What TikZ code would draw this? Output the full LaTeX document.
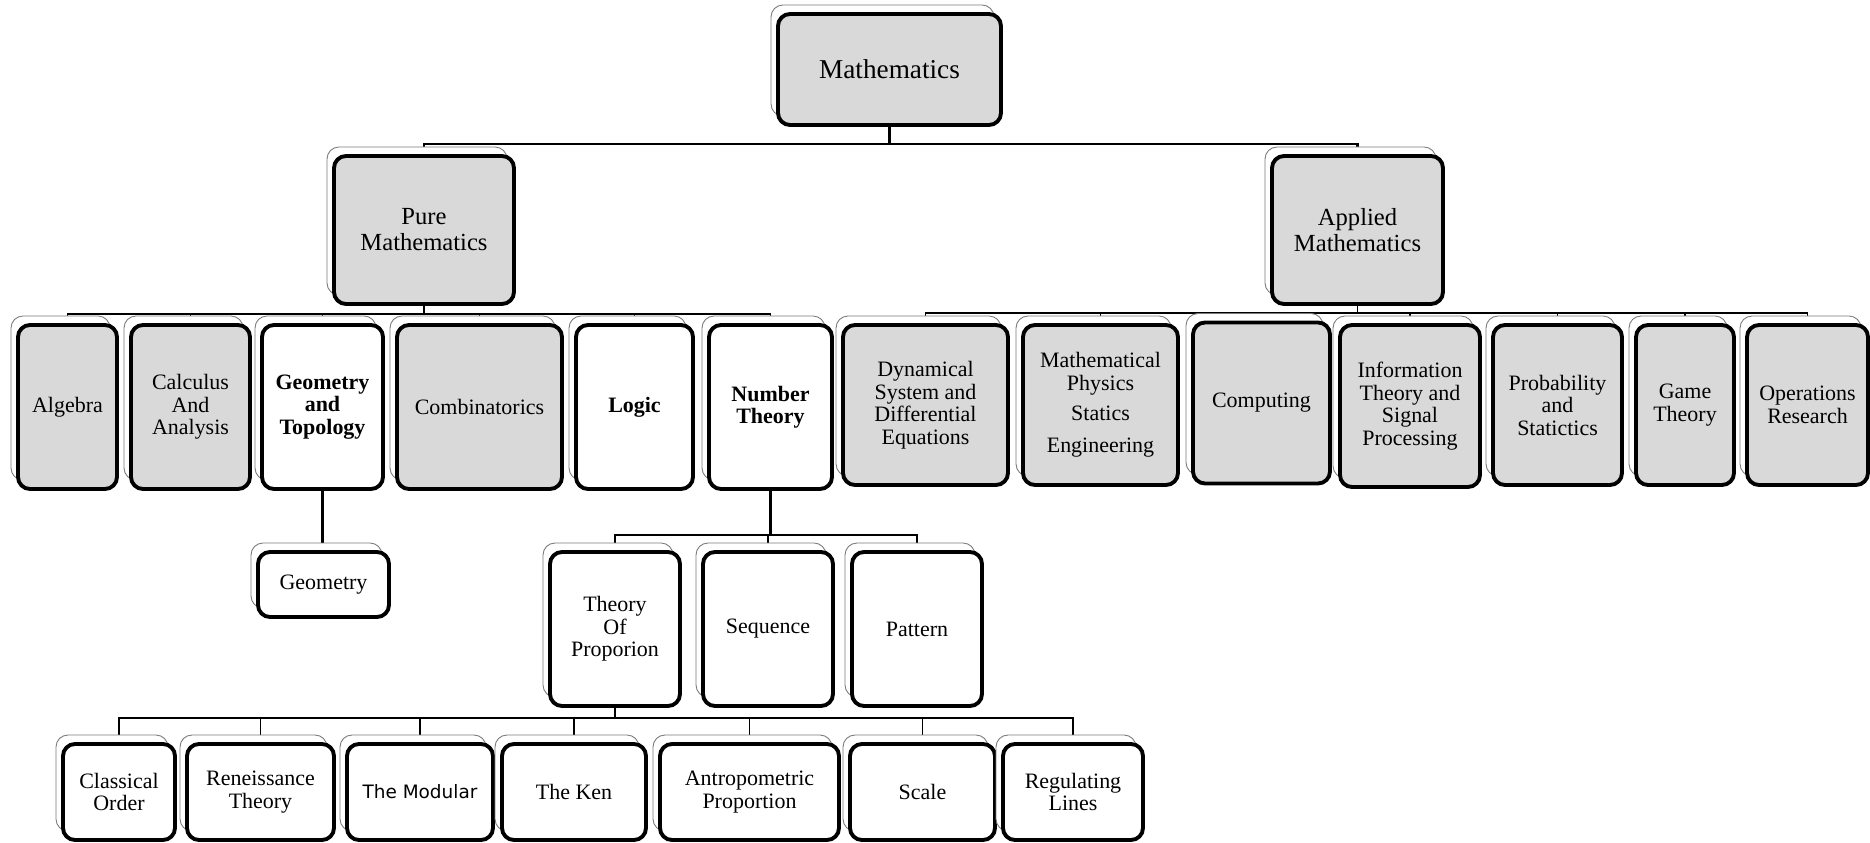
\documentclass[tikz,border=0pt]{standalone}
\usepackage{fontspec}
\setmainfont{Liberation Serif}
\newfontfamily\modularfont{DejaVu Sans}
\usetikzlibrary{shadows,backgrounds}

\definecolor{boxgrey}{HTML}{D9D9D9}
\definecolor{shadowline}{HTML}{7A7A7A}
\newcommand\boxfont{\fontsize{12.5}{12.8}\selectfont}

\tikzset{
  box/.style={draw, line width=2.2pt, rounded corners=2.4mm, align=center, inner sep=1pt, font=\boxfont,
    copy shadow={shadow xshift=-1.4mm, shadow yshift=1.8mm, draw=shadowline, line width=0.5pt, fill=white}},
  greybox/.style={box, fill=boxgrey},
  whitebox/.style={box, fill=white},
  boxsize/.style 2 args={minimum width=#1*0.2mm, minimum height=#2*0.2mm},
  link/.style={line width=1.6pt},
  thinlink/.style={line width=1.1pt}
}

\begin{document}
\begin{tikzpicture}[x=0.2mm, y=-0.2mm]
  \useasboundingbox (0,0) rectangle (1870,843);

  % root and main branches
  \node[greybox, boxsize={223}{111}, font=\fontsize{15.5}{16}\selectfont] (math) at (889.5,69.5) {Mathematics};
  \node[greybox, boxsize={180}{148}, font=\fontsize{14}{14.8}\selectfont] (pure) at (424,230) {Pure\\Mathematics};
  \node[greybox, boxsize={171}{148}, font=\fontsize{14}{14.8}\selectfont] (appl) at (1357.5,230) {Applied\\Mathematics};

  % pure mathematics
  \node[greybox, boxsize={99}{164}] (alg) at (67.5,407) {Algebra};
  \node[greybox, boxsize={119}{164}] (calc) at (190.5,407) {Calculus\\And\\Analysis};
  \node[whitebox, boxsize={121}{164}, font=\boxfont\bfseries] (geotop) at (322.5,407) {Geometry\\and\\Topology};
  \node[greybox, boxsize={165}{164}] (comb) at (479.5,407) {Combinatorics};
  \node[whitebox, boxsize={117}{164}, font=\boxfont\bfseries] (logic) at (634.5,407) {Logic};
  \node[whitebox, boxsize={123}{164}, font=\boxfont\bfseries] (numth) at (770.5,407) {Number\\Theory};

  % applied mathematics
  \node[greybox, boxsize={165}{160}] (dyn) at (925.5,405) {Dynamical\\System and\\Differential\\Equations};
  \node[greybox, boxsize={155}{160}] (mphys) at (1100.5,405) {Mathematical\\Physics\\[1.6mm]Statics\\[2mm]Engineering};
  \node[greybox, boxsize={137}{161}] (comp) at (1261.5,403) {Computing};
  \node[greybox, boxsize={140}{162}] (info) at (1410,406) {Information\\Theory and\\Signal\\Processing};
  \node[greybox, boxsize={129}{160}] (prob) at (1557.5,405) {Probability\\and\\Statictics};
  \node[greybox, boxsize={98}{160}] (game) at (1685,405) {Game\\Theory};
  \node[greybox, boxsize={121}{160}] (ops) at (1807.5,405) {Operations\\Research};

  % geometry and number theory
  \node[whitebox, boxsize={131}{65}] (geo) at (323.5,584.5) {Geometry};
  \node[whitebox, boxsize={130}{154}] (theory) at (615,629) {Theory\\Of\\Proporion};
  \node[whitebox, boxsize={130}{154}] (seq) at (768,629) {Sequence};
  \node[whitebox, boxsize={130}{154}] (patt) at (917,629) {Pattern};

  % theory of proportion
  \node[whitebox, boxsize={112}{96}] (classic) at (119,792) {Classical\\Order};
  \node[whitebox, boxsize={147}{96}] (renai) at (260.5,792) {Reneissance\\Theory};
  \node[whitebox, boxsize={146}{96}, font=\modularfont\fontsize{10.5}{12}\selectfont] (modul) at (420,792) {The Modular};
  \node[whitebox, boxsize={144}{96}] (ken) at (574,792) {The Ken};
  \node[whitebox, boxsize={179}{96}] (antro) at (749.5,792) {Antropometric\\Proportion};
  \node[whitebox, boxsize={145}{96}] (scale) at (922.5,792) {Scale};
  \node[whitebox, boxsize={140}{96}] (regul) at (1073,792) {Regulating\\Lines};

  \begin{scope}[on background layer]
    \draw[link] (math.south) -- ++(0,17) -| (pure.north);
    \draw[link] (math.south) -- ++(0,17) -| (appl.north);
    \foreach \n in {alg,calc,geotop,comb,logic,numth}
      \draw[thinlink] (pure.south) -- ++(0,8) -| (\n.north);
    \foreach \n in {dyn,mphys,comp,info,prob,game,ops}
      \draw[thinlink] (appl.south) -- ++(0,7) -| (\n.north);
    \draw[link] (geotop.south) -- (geotop.south |- geo.north);
    \foreach \n in {theory,seq,patt}
      \draw[link] (numth.south) -- ++(0,44) -| (\n.north);
    \foreach \n in {classic,renai,modul,ken,antro,scale,regul}
      \draw[thinlink] (theory.south) -- ++(0,10) -| (\n.north);
  \end{scope}
\end{tikzpicture}
\end{document}
